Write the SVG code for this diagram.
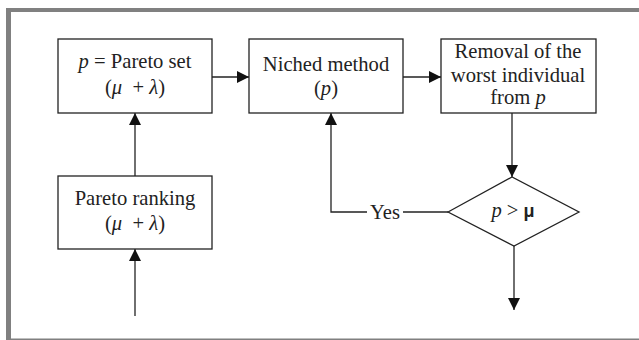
<svg xmlns="http://www.w3.org/2000/svg" width="639" height="340" viewBox="0 0 639 340">
<style>
.box{fill:#fff;stroke:#222;stroke-width:1.3}
.t{font-family:"Liberation Serif","Times New Roman",serif;font-size:20.6px;fill:#222;text-anchor:middle}
.i{font-style:italic}
.ln{fill:none;stroke:#222;stroke-width:1.3}
</style>
<defs>
<marker id="ah" viewBox="0 0 12 12" refX="12" refY="6" markerWidth="12" markerHeight="12" markerUnits="userSpaceOnUse" orient="auto">
<path d="M0,0 L12,6 L0,12 Z" fill="#111"/>
</marker>
</defs>
<rect width="639" height="340" fill="#fff"/>
<g id="frame" fill="#808080">
<rect x="6" y="8" width="633" height="4"/>
<rect x="6" y="8" width="5" height="332"/>
<rect x="11" y="338.5" width="628" height="1.5"/>
</g>
<g id="connectors">
<line class="ln" x1="212" y1="77" x2="249" y2="77" marker-end="url(#ah)"/>
<line class="ln" x1="403" y1="77" x2="441" y2="77" marker-end="url(#ah)"/>
<line class="ln" x1="135" y1="176" x2="135" y2="113" marker-end="url(#ah)"/>
<line class="ln" x1="135" y1="316" x2="135" y2="249" marker-end="url(#ah)"/>
<line class="ln" x1="512" y1="113" x2="512" y2="177" marker-end="url(#ah)"/>
<line class="ln" x1="514" y1="246" x2="514" y2="310" marker-end="url(#ah)"/>
<polyline class="ln" points="448,212 403,212"/>
<polyline class="ln" points="367,212 331,212 331,113" marker-end="url(#ah)"/>
<text class="t" x="385" y="219">Yes</text>
</g>
<g id="pareto-set">
<rect class="box" x="58" y="39" width="154" height="74"/>
<text class="t" x="135" y="68"><tspan class="i">p</tspan> = Pareto set</text>
<text class="t" x="135" y="94" xml:space="preserve">(<tspan class="i">μ</tspan>  + <tspan class="i">λ</tspan>)</text>
</g>
<g id="niched">
<rect class="box" x="249" y="39" width="154" height="74"/>
<text class="t" x="326" y="71">Niched method</text>
<text class="t" x="326" y="95">(<tspan class="i">p</tspan>)</text>
</g>
<g id="removal">
<rect class="box" x="441" y="39" width="155" height="74"/>
<text class="t" x="518" y="58">Removal of the</text>
<text class="t" x="518" y="82">worst individual</text>
<text class="t" x="518" y="104">from <tspan class="i">p</tspan></text>
</g>
<g id="pareto-ranking">
<rect class="box" x="58" y="176" width="154" height="73"/>
<text class="t" x="135" y="205">Pareto ranking</text>
<text class="t" x="135" y="230" xml:space="preserve">(<tspan class="i">μ</tspan>  + <tspan class="i">λ</tspan>)</text>
</g>
<g id="decision">
<polygon class="box" points="448,212 512,177 579,212 514,246"/>
<text class="t" x="513" y="217"><tspan class="i">p</tspan> &gt; <tspan font-weight="bold" font-family="Liberation Sans, Arial, sans-serif" font-size="18">μ</tspan></text>
</g>
</svg>
